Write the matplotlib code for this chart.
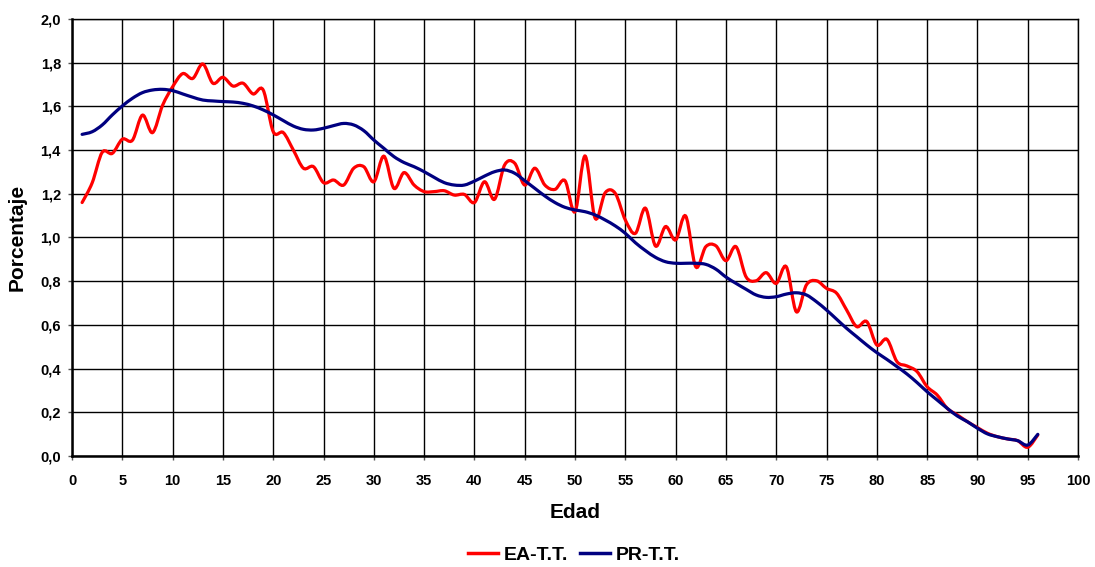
import numpy as np
import matplotlib
matplotlib.use("Agg")
from matplotlib import pyplot as plt
from matplotlib.path import Path
from matplotlib.patches import PathPatch
from matplotlib.lines import Line2D
from matplotlib.ticker import FuncFormatter

plt.rcParams['font.family'] = ['Liberation Sans', 'DejaVu Sans']

# edades 1..96
edad = list(range(1, 97))

# EA-T.T. (porcentaje)
ea_tt = [1.16, 1.25, 1.39, 1.385, 1.45, 1.445, 1.56, 1.48, 1.605, 1.69,
         1.75, 1.728, 1.794, 1.706, 1.733, 1.693, 1.706, 1.657, 1.675, 1.484,
         1.48, 1.40, 1.317, 1.324, 1.251, 1.263, 1.24, 1.317, 1.324, 1.255,
         1.372, 1.225, 1.297, 1.24, 1.21, 1.21, 1.214, 1.194, 1.197, 1.16,
         1.255, 1.175, 1.332, 1.34, 1.24, 1.317, 1.24, 1.22, 1.26, 1.118,
         1.373, 1.088, 1.205, 1.202, 1.08, 1.019, 1.134, 0.961, 1.05, 0.989,
         1.098, 0.866, 0.958, 0.962, 0.894, 0.958, 0.82, 0.802, 0.839, 0.79,
         0.866, 0.66, 0.783, 0.802, 0.767, 0.745, 0.668, 0.592, 0.615, 0.508,
         0.534, 0.432, 0.412, 0.386, 0.317, 0.279, 0.218, 0.188, 0.157, 0.13,
         0.104, 0.088, 0.078, 0.07, 0.04, 0.096]

# PR-T.T. (porcentaje)
pr_tt = [1.472, 1.484, 1.515, 1.561, 1.602, 1.637, 1.663, 1.675, 1.678, 1.672,
         1.657, 1.642, 1.629, 1.625, 1.622, 1.62, 1.614, 1.602, 1.584, 1.561,
         1.535, 1.51, 1.495, 1.492, 1.50, 1.512, 1.522, 1.515, 1.489, 1.446,
         1.408, 1.37, 1.343, 1.324, 1.301, 1.275, 1.251, 1.24, 1.24, 1.258,
         1.281, 1.301, 1.309, 1.294, 1.26, 1.225, 1.19, 1.16, 1.138, 1.126,
         1.118, 1.103, 1.08, 1.053, 1.019, 0.976, 0.94, 0.909, 0.889, 0.882,
         0.882, 0.882, 0.877, 0.855, 0.819, 0.79, 0.763, 0.737, 0.726, 0.729,
         0.741, 0.747, 0.737, 0.706, 0.668, 0.626, 0.584, 0.546, 0.508, 0.473,
         0.442, 0.409, 0.375, 0.336, 0.294, 0.256, 0.218, 0.183, 0.157, 0.127,
         0.101, 0.088, 0.078, 0.07, 0.05, 0.099]


def smooth_path(x, y):
    # linea suavizada tipo Excel (Catmull-Rom como curvas Bezier)
    p = np.column_stack([x, y]).astype(float)
    p = np.vstack([p[0], p, p[-1]])
    verts = [p[1]]
    codes = [Path.MOVETO]
    for i in range(1, len(p) - 2):
        c1 = p[i] + (p[i + 1] - p[i - 1]) / 6.0
        c2 = p[i + 1] - (p[i + 2] - p[i]) / 6.0
        verts += [c1, c2, p[i + 1]]
        codes += [Path.CURVE4] * 3
    return Path(verts, codes)


fig = plt.figure(figsize=(10.95, 5.67), dpi=100)
ax = fig.add_axes([0.0658, 0.1958, 0.9187, 0.7707])

ax.add_patch(PathPatch(smooth_path(edad, ea_tt), facecolor='none',
                       edgecolor='#ff0000', lw=2.3, capstyle='round', zorder=3))
ax.add_patch(PathPatch(smooth_path(edad, pr_tt), facecolor='none',
                       edgecolor='#000080', lw=2.3, capstyle='round', zorder=4))

ax.set_xlim(0, 100)
ax.set_ylim(0, 2.0)
ax.set_xticks(np.arange(0, 101, 5))
ax.set_yticks(np.arange(0, 2.01, 0.2))
ax.yaxis.set_major_formatter(FuncFormatter(lambda v, p: ('%.1f' % v).replace('.', ',')))
ax.grid(True, color='black', lw=1.0)
ax.set_axisbelow(True)
for s in ax.spines.values():
    s.set_color('black')
    s.set_linewidth(1.0)
ax.spines['left'].set_linewidth(1.8)
ax.spines['bottom'].set_linewidth(1.8)
ax.tick_params(direction='out', length=3, width=1, labelsize=10.5, color='#555555')
ax.tick_params(axis='x', pad=10)
ax.tick_params(axis='y', pad=5)
for lab in ax.get_xticklabels() + ax.get_yticklabels():
    lab.set_fontweight('bold')

ax.set_xlabel('Edad', fontsize=15, fontweight='bold', labelpad=11)
ax.set_ylabel('Porcentaje', fontsize=15, fontweight='bold', labelpad=10)

handles = [Line2D([0], [0], color='#ff0000', lw=2.5),
           Line2D([0], [0], color='#000080', lw=2.5)]
fig.legend(handles, ['EA-T.T.', 'PR-T.T.'], loc='lower center',
           bbox_to_anchor=(0.524, -0.026), ncol=2, frameon=False,
           handlelength=1.55, handletextpad=0.3, columnspacing=0.6,
           prop={'weight': 'bold', 'size': 14})

fig.savefig('out.png', dpi=100)
